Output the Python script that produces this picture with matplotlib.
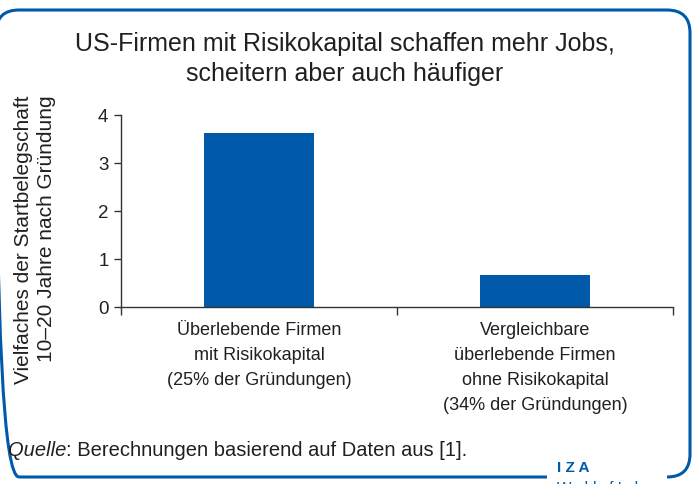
import matplotlib
matplotlib.use("Agg")
from matplotlib import pyplot as plt
from matplotlib.patches import FancyBboxPatch, Rectangle

categories = ["Überlebende Firmen\nmit Risikokapital\n(25% der Gründungen)",
              "Vergleichbare\nüberlebende Firmen\nohne Risikokapital\n(34% der Gründungen)"]
values = [3.62, 0.67]
yticks = [0, 1, 2, 3, 4]

blue = "#005aa9"
text_col = "#231f20"
plt.rcParams["font.family"] = ["Liberation Sans", "DejaVu Sans"]

W, H = 695, 484
fig = plt.figure(figsize=(W / 100, H / 100), dpi=100)
ax = fig.add_axes([121 / W, 1 - 307 / H, 552 / W, (307 - 115) / H])

x = list(range(len(values)))
ax.bar(x, values, width=0.40, color=blue)
ax.set_xlim(-0.5, 1.5)
ax.set_ylim(0, 4)
ax.set_yticks(yticks)
ax.set_xticks([-0.5, 0.5, 1.5])
ax.set_xticklabels([])
ax.set_xticks(x, minor=True)
ax.set_xticklabels(categories, minor=True, fontsize=13, color=text_col, linespacing=1.62)
ax.tick_params(axis="x", which="minor", length=0, pad=11)
ax.tick_params(axis="x", which="major", direction="out", length=6, width=1, color="#333333")
ax.tick_params(axis="y", direction="out", length=5, width=1, color="#333333",
               labelsize=13.5, labelcolor=text_col, pad=4)
for s in ["top", "right"]:
    ax.spines[s].set_visible(False)
for s in ["left", "bottom"]:
    ax.spines[s].set_color("#333333")
    ax.spines[s].set_linewidth(1)

fig.text(35 / W, 1 - 240 / H, "Vielfaches der Startbelegschaft\n10–20 Jahre nach Gründung",
         rotation=90, ha="center", va="center", multialignment="right",
         fontsize=15, color=text_col, linespacing=1.22)

fig.text(345 / W, 1 - 59 / H, "US-Firmen mit Risikokapital schaffen mehr Jobs,\nscheitern aber auch häufiger",
         ha="center", va="center", fontsize=18, color=text_col, linespacing=1.36)

q = fig.text(8 / W, 1 - 451 / H, "Quelle", style="italic", fontsize=14.5, color=text_col, va="center")
r = fig.canvas.get_renderer()
qx = q.get_window_extent(r).x1
fig.text(qx / W, 1 - 451 / H, ": Berechnungen basierend auf Daten aus [1].", fontsize=14.5,
         color=text_col, va="center")

frame = FancyBboxPatch((-4 / W, 1 - 477 / H), 694 / W, 467 / H,
                       boxstyle="round,pad=0,rounding_size=0.033",
                       transform=fig.transFigure, fill=False, edgecolor=blue, linewidth=2.2,
                       mutation_aspect=W / H)
fig.patches.append(frame)
fig.patches.append(Rectangle((547 / W, 0), 120 / W, 20 / H, transform=fig.transFigure,
                             facecolor="white", edgecolor="none", zorder=3))
fig.text(557 / W, 1 - 468 / H, "I Z A", fontsize=11, weight="bold", color=blue, va="center", zorder=4)
fig.text(557 / W, 1 - 488 / H, "World of Labor", fontsize=11, color=blue, va="center", zorder=4)

fig.savefig("out.png", dpi=100)
